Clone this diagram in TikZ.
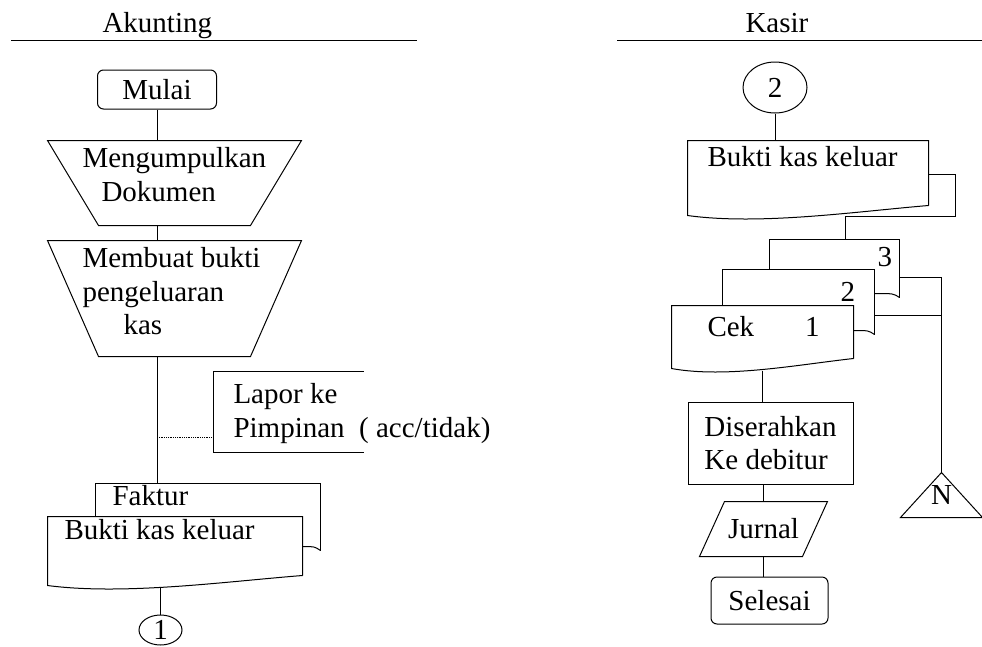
\documentclass[tikz,border=0pt]{standalone}
\usepackage{fontspec}
\setmainfont{Liberation Serif}
\usetikzlibrary{calc,shapes.geometric}

% outline of an inverted trapezium around a node
\newcommand\trapesium[1]{%
	\draw (#1.north west) -- (#1.north east) -- ([xshift=-51pt]#1.south east)
	-- ([xshift=51pt]#1.south west) -- cycle;}
% document with a wavy bottom
\newcommand\dokumen[1]{%
	\draw ($(#1.south east)+(0,-12)$) -- (#1.north east) -- (#1.north west)
	-- ($(#1.south west)+(0,-2)$)
	.. controls ($(#1.south west)!0.3!(#1.south east)+(0,8)$)
	and ($(#1.south west)!0.7!(#1.south east)+(0,-6)$)
	.. ($(#1.south east)+(0,-12)$);}
% copy #1 lying behind document #2
\newcommand\salinan[2]{%
	\draw (#1.west |- #2.north) -- (#1.north west) -- (#1.north east) -- (#1.south east);
	\draw ($(#1.south -| #2.east)+(0,-4)$) .. controls ($(#1.south east)+(-6,-4)$) .. (#1.south east);}

\begin{document}
\begin{tikzpicture}[
	x=1pt, y=-1pt,
	line width=1pt,
	font=\fontsize{29}{33.5}\selectfont,
	ukuran/.style 2 args={minimum width=#1, minimum height=#2},
	terminal/.style={draw, rounded corners=6pt, inner sep=0pt},
	proses/.style={draw, inner sep=0pt, align=left},
	kosong/.style={draw=none, inner sep=0pt},
	konektor/.style={draw, ellipse, inner sep=0pt},
	teks/.style={anchor=north west, inner sep=0pt, align=left},
	]
	\useasboundingbox (0,0) rectangle (982,646);

	% Akunting
	\node [teks, anchor=base west] (akunting) at (102,32) {Akunting};
	\draw (11,40) -- (417,40);
	\node [terminal, ukuran={119}{39}] (mulai) at (157,89.5) {Mulai};
	\node [kosong, ukuran={253}{84}] (kumpul) at (174.5,183) {};
	\trapesium{kumpul}
	\node [teks] (kumpul-t) at (82,147) {Mengumpulkan\\\hspace*{19pt}Dokumen};
	\node [kosong, ukuran={253}{115}] (buat) at (174.5,298.5) {};
	\trapesium{buat}
	\node [teks] (buat-t) at (82,247) {Membuat bukti\\pengeluaran\\\hspace*{41pt}kas};
	\node [kosong, ukuran={149}{80}] (lapor) at (288.5,412) {};
	\draw (lapor.north east) -- (lapor.north west) -- (lapor.south west) -- (lapor.south east);
	\node [teks] (lapor-t) at (233,383) {Lapor ke\\Pimpinan\ \ ( acc/tidak)};
	\node [kosong, ukuran={224}{66}] (faktur) at (208,517) {};
	\node [kosong, ukuran={254}{70}] (bkk1) at (175,552) {};
	\salinan{faktur}{bkk1}
	\dokumen{bkk1}
	\node [teks] (faktur-t) at (112,485) {Faktur};
	\node [teks] (bkk1-t) at (64,518.5) {Bukti kas keluar};
	\node [konektor, ukuran={43}{30}] (satu) at (160.5,630) {1};

	\draw (mulai.south) -- (mulai.south |- kumpul.north);
	\draw (kumpul.south -| mulai) -- (buat.north -| mulai);
	\draw (buat.south -| mulai) -- (faktur.north -| mulai);
	\coordinate (cabang) at (157,437);
	\draw [densely dotted, line width=0.8pt] (cabang) -- (cabang -| lapor.west);
	\draw (satu.north) -- (satu.north |- bkk1.south);

	% Kasir
	\node [teks, anchor=base west] (kasir) at (745,32) {Kasir};
	\draw (617,40) -- (982,40);
	\node [konektor, ukuran={64}{51}] (dua) at (775,87.5) {2};
	\node [kosong, ukuran={240}{76}] (bkk2) at (808,179) {};
	\dokumen{bkk2}
	\node [teks] (bkk2-t) at (707,146) {Bukti kas keluar};
	\node [kosong, ukuran={129}{57}] (cek3) at (834.5,268.5) {};
	\node [kosong, ukuran={151}{64}] (cek2) at (798.5,302) {};
	\node [kosong, ukuran={181}{64}] (cek) at (762.5,338) {};
	\salinan{cek3}{cek2}
	\salinan{cek2}{cek}
	\dokumen{cek}
	\node [teks, anchor=base west] (cek3-t) at (877,266.5) {3};
	\node [teks, anchor=base west] (cek2-t) at (840,301.5) {2};
	\node [teks, anchor=base west] (cek-t) at (707,336) {Cek\hspace*{51pt}1};
	\node [proses, ukuran={165}{82}] (serah) at (770.5,443) {Diserahkan\\Ke debitur};
	\node [kosong, ukuran={127}{54}] (jurnal) at (763.5,529) {Jurnal};
	\draw ([xshift=25pt]jurnal.north west) -- (jurnal.north east)
	-- ([xshift=-25pt]jurnal.south east) -- (jurnal.south west) -- cycle;
	\node [terminal, ukuran={117}{47}] (selesai) at (769.5,600.5) {Selesai};
	\node [kosong, ukuran={81}{44}] (ntri) at (941.5,495) {N};
	\draw (ntri.north) -- (ntri.south east) -- (ntri.south west) -- cycle;

	\draw (dua.south) -- (dua.south |- bkk2.north);
	\draw ([yshift=5pt]bkk2.east) -| ++(27,42) -| ([xshift=11pt]cek3.north);
	\draw ([yshift=-8.5pt]cek3.east) -| (ntri.north);
	\draw ([yshift=-13pt]cek2.east) -| (ntri.north);
	\draw (cek.south) -- (cek.south |- serah.north);
	\draw (jurnal.north) -- (jurnal.north |- serah.south);
	\draw (jurnal.south) -- (jurnal.south |- selesai.north);
\end{tikzpicture}
\end{document}
